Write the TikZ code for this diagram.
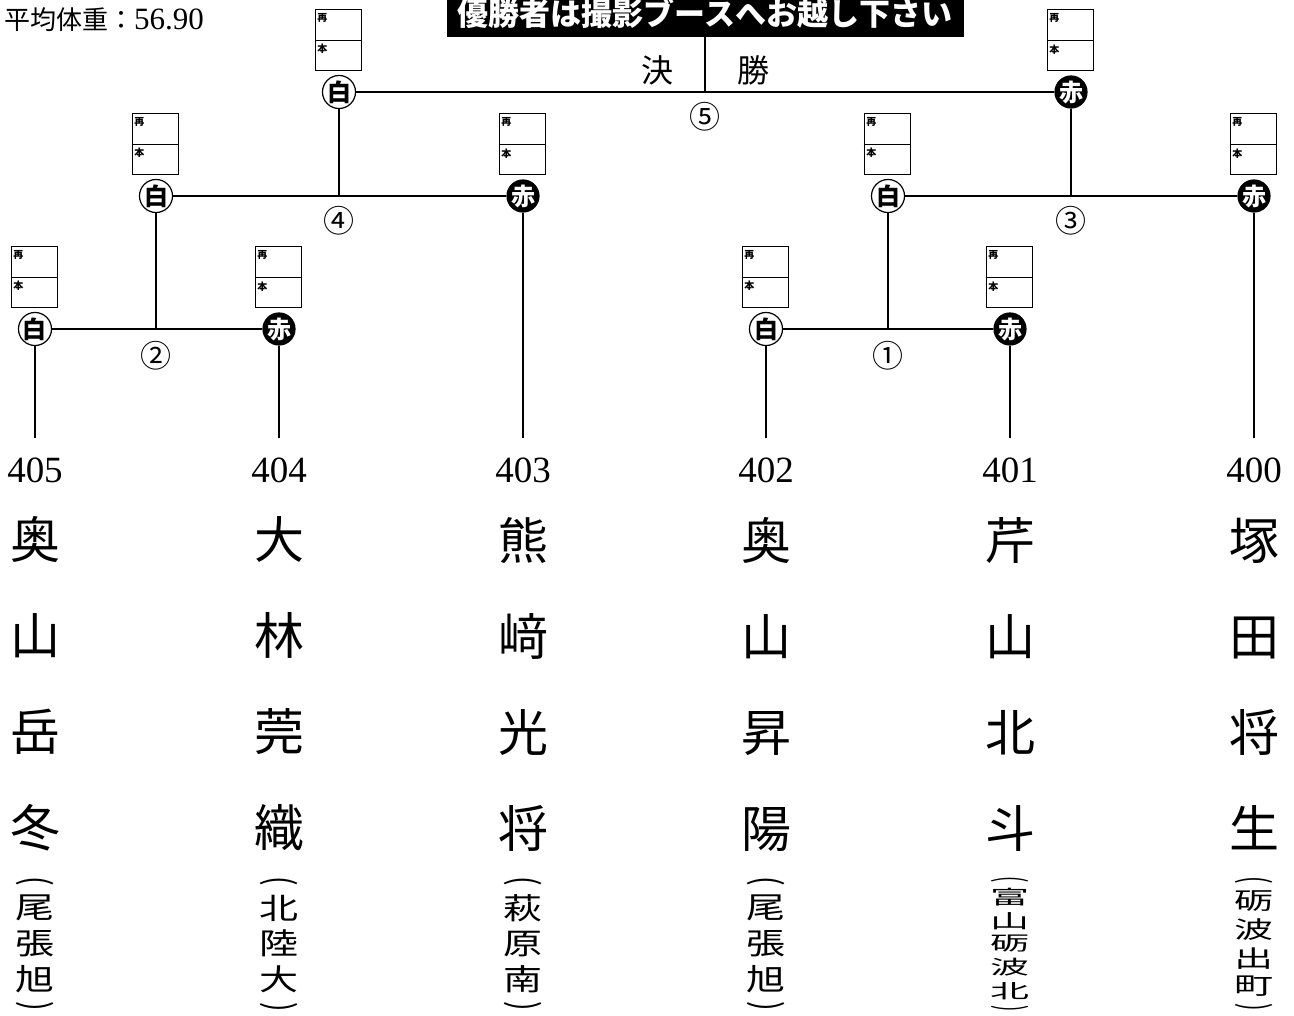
\documentclass[tikz,border=0pt]{standalone}
\usepackage{fontspec}
\usepackage{graphicx}
\setmainfont{Noto Sans CJK JP}
\newfontfamily\numfont{Liberation Serif}
\usetikzlibrary{positioning,calc}

% score card above a corner mark
\newcommand\card[2]{%
  \node[cardbox, above=4pt of #2, xshift=-1pt] (#1) {};
  \draw[line width=0.8pt] (#1.west) -- (#1.east);
  \node[cardtag] (#1-re) at ([shift={(2.5pt,-4pt)}]#1.north west) {再};
  \node[cardtag] (#1-hon) at ([shift={(2.5pt,-4pt)}]#1.west) {本};
}
% school name, written downwards in brackets
\newcommand\school[1]{\resizebox*{39pt}{135pt}{\shortstack{\rotatebox{-90}{\scalebox{0.95}{(}}\\#1\\\rotatebox{-90}{\scalebox{0.95}{)}}}}}

\tikzset{
  bracket/.style={line width=1.3pt},
  whiteside/.style={circle, draw, line width=1.2pt, fill=white, minimum size=29pt, inner sep=0pt, font=\bfseries\fontsize{24}{24}\selectfont},
  redside/.style={circle, fill=black, text=white, minimum size=30pt, inner sep=0pt, font=\bfseries\fontsize{24}{24}\selectfont},
  cardbox/.style={draw, line width=0.8pt, minimum width=46pt, minimum height=61pt, inner sep=0pt},
  cardtag/.style={anchor=north west, inner sep=0pt, font=\bfseries\fontsize{10}{10}\selectfont},
  matchno/.style={inner sep=0pt, font=\fontsize{31}{31}\selectfont},
  entryno/.style={inner xsep=0pt, inner ysep=19pt, font=\numfont\fontsize{37}{37}\selectfont},
  namestack/.style={align=center, inner sep=0pt, font=\fontsize{50}{96}\selectfont},
  schoolstack/.style={inner sep=0pt}
}

\begin{document}
\begin{tikzpicture}[x=1pt, y=-1pt]
\useasboundingbox (0,0) rectangle (1294,1016);

\node[anchor=west, inner sep=0pt, font=\fontsize{26}{26}\selectfont] (avg) at (4,20)
  {平均体重：{\numfont\fontsize{31}{31}\selectfont 56.90}};
\node[fill=black, text=white, minimum width=517pt, minimum height=48pt, inner sep=0pt,
  font=\bfseries\fontsize{31}{31}\selectfont] (ban) at (705,13) {優勝者は撮影ブースへお越し下さい};

% corner marks
\node[whiteside] (w2) at (35,329) {白};
\node[redside] (r2) at (279,329) {赤};
\node[whiteside] (w1) at (766,329) {白};
\node[redside] (r1) at (1010,329) {赤};
\node[whiteside] (w4) at (156,196) {白};
\node[redside] (r4) at (523,196) {赤};
\node[whiteside] (w3) at (888,196) {白};
\node[redside] (r3) at (1254,196) {赤};
\node[whiteside] (w5) at (339,92) {白};
\node[redside] (r5) at (1071,92) {赤};

\card{cw2}{w2} \card{cr2}{r2} \card{cw1}{w1} \card{cr1}{r1}
\card{cw4}{w4} \card{cr4}{r4} \card{cw3}{w3} \card{cr3}{r3}
\card{cw5}{w5} \card{cr5}{r5}

% entries
\node[entryno] (n405) at (35,470) {405};
\node[entryno] (n404) at (279,470) {404};
\node[entryno] (n403) at (523,470) {403};
\node[entryno] (n402) at (766,470) {402};
\node[entryno] (n401) at (1010,470) {401};
\node[entryno] (n400) at (1254,470) {400};

\node[namestack] (p405) at (35,684) {奥\\山\\岳\\冬};
\node[namestack] (p404) at (279,684) {大\\林\\莞\\織};
\node[namestack] (p403) at (523,684) {熊\\﨑\\光\\将};
\node[namestack] (p402) at (766,684) {奥\\山\\昇\\陽};
\node[namestack] (p401) at (1010,684) {芹\\山\\北\\斗};
\node[namestack] (p400) at (1254,684) {塚\\田\\将\\生};

\node[schoolstack] (s405) at (35,944) {\school{尾\\張\\旭}};
\node[schoolstack] (s404) at (279,944) {\school{北\\陸\\大}};
\node[schoolstack] (s403) at (523,944) {\school{萩\\原\\南}};
\node[schoolstack] (s402) at (766,944) {\school{尾\\張\\旭}};
\node[schoolstack] (s401) at (1010,944) {\school{富\\山\\砺\\波\\北}};
\node[schoolstack] (s400) at (1254,944) {\school{砺\\波\\出\\町}};

% bracket
\coordinate (j2) at (w4 |- w2);
\coordinate (j1) at (w3 |- w1);
\coordinate (j4) at (w5 |- w4);
\coordinate (j3) at (r5 |- r3);
\coordinate (j5) at ($(w5)!0.5!(r5)$);

\draw[bracket] (w2) -- (r2) (w1) -- (r1) (w4) -- (r4) (w3) -- (r3) (w5) -- (r5);
\draw[bracket] (j2) -- (w4) (j1) -- (w3) (j4) -- (w5) (j3) -- (r5) (j5) -- (ban.south);
\draw[bracket] (w2) -- (n405) (r2) -- (n404) (r4) -- (n403)
  (w1) -- (n402) (r1) -- (n401) (r3) -- (n400);

\node[matchno] (m1) at ([yshift=-27pt]j1) {①};
\node[matchno] (m2) at ([yshift=-27pt]j2) {②};
\node[matchno] (m3) at ([yshift=-25pt]j3) {③};
\node[matchno] (m4) at ([yshift=-25pt]j4) {④};
\node[matchno] (m5) at ([yshift=-25pt]j5) {⑤};

\node[inner sep=0pt, font=\fontsize{32}{32}\selectfont] (kessho1) at (657,70) {決};
\node[inner sep=0pt, font=\fontsize{32}{32}\selectfont] (kessho2) at (753,70) {勝};
\end{tikzpicture}
\end{document}
